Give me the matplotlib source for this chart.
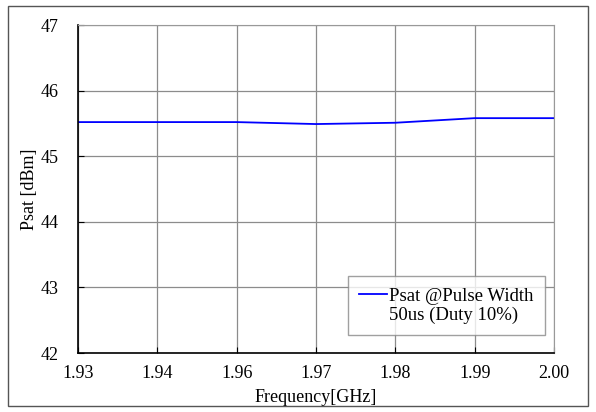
import matplotlib
matplotlib.use("Agg")
import matplotlib.pyplot as plt
from matplotlib.patches import Rectangle
from matplotlib.lines import Line2D

# data
freq_labels = ['1.93', '1.94', '1.96', '1.97', '1.98', '1.99', '2.00']
psat = [45.52, 45.52, 45.52, 45.49, 45.51, 45.58, 45.58]

plt.rcParams['font.family'] = ['Liberation Serif', 'DejaVu Serif']

fig = plt.figure(figsize=(5.96, 4.12), dpi=100)
ax = fig.add_axes([78/596, 1-353/412, (554-78)/596, (353-25)/412])

# outer border around the whole chart
fig.patches.append(Rectangle((8/596, 6/412), 580/596, 400/412, transform=fig.transFigure,
                             fill=False, edgecolor='#555555', linewidth=1.0))

x = list(range(len(freq_labels)))
line, = ax.plot(x, psat, '-', color='#0000ff', linewidth=1.3)

ax.set_xlim(0, len(freq_labels) - 1)
ax.set_ylim(42, 47)
ax.set_xticks(x)
ax.set_xticklabels(freq_labels)
ax.set_yticks([42, 43, 44, 45, 46, 47])
ax.tick_params(axis='both', direction='in', length=4, labelsize=13)
ax.tick_params(axis='x', pad=9)
ax.tick_params(axis='y', pad=14)
ax.grid(True, color='#8c8c8c', linewidth=0.9)
for s in ['top', 'right']:
    ax.spines[s].set_color('#999999')
for s in ['left', 'bottom']:
    ax.spines[s].set_linewidth(1.2)

ax.set_xlabel('Frequency[GHz]', fontsize=13, labelpad=5)
ax.set_ylabel('Psat [dBm]', fontsize=13, labelpad=2)

# two legend rows: the line sits beside the first row only
blank = Line2D([], [], color='none')
leg = ax.legend([line, blank], ['Psat @Pulse Width', '50us (Duty 10%)'],
                loc='lower right', bbox_to_anchor=(0.981, 0.055), fontsize=13.5,
                frameon=True, fancybox=False, handlelength=1.45, handletextpad=0.15,
                borderpad=0.6, labelspacing=0.1, borderaxespad=0)
leg.get_frame().set_edgecolor('#888888')
leg.get_frame().set_linewidth(1.0)

plt.savefig('out.png', dpi=100)
